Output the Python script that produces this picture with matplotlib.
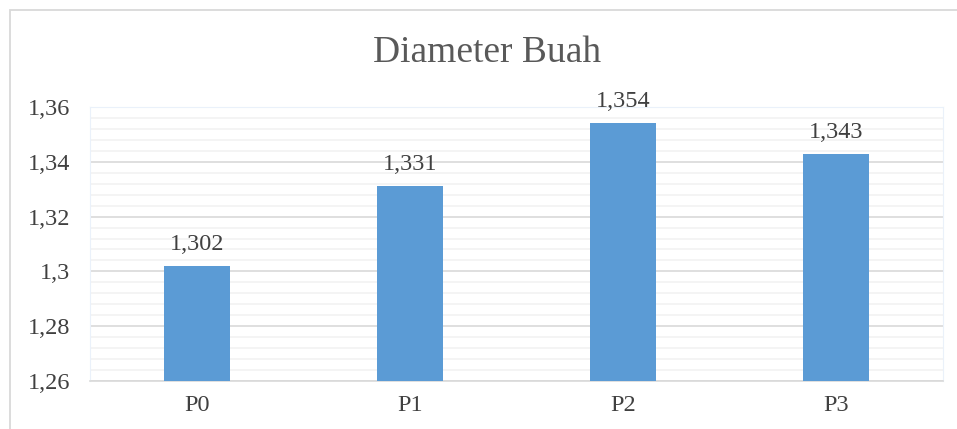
import matplotlib.pyplot as plt
import numpy as np
from matplotlib.patches import Rectangle
from matplotlib.ticker import MultipleLocator

# ── data ───────────────────────────────────────────────────────────────────────
categories = ["P0", "P1", "P2", "P3"]
diameter = [1.302, 1.331, 1.354, 1.343]
labels = ["1,302", "1,331", "1,354", "1,343"]
y_ticks = [1.26, 1.28, 1.30, 1.32, 1.34, 1.36]
y_tick_labels = ["1,26", "1,28", "1,3", "1,32", "1,34", "1,36"]

BAR = "#5B9BD5"
TEXT = "#404040"

plt.rcParams["font.family"] = ["Liberation Serif", "DejaVu Serif"]

W, H = 957, 429
fig = plt.figure(figsize=(W / 100, H / 100), dpi=100)

# outer chart frame (only top and left visible in the crop)
fig.patches.append(Rectangle((10 / W, -0.1), 1.2, (H - 10) / H + 0.1,
                             transform=fig.transFigure, fill=False,
                             edgecolor="#D9D9D9", linewidth=1.3))

ax = fig.add_axes([90 / W, 1 - 381 / H, 853 / W, 274 / H])
x = np.arange(len(categories))
ax.bar(x, diameter, width=0.31, color=BAR, zorder=3)

for xi, v, lab in zip(x, diameter, labels):
    ax.text(xi, v + 0.004, lab, ha="center", va="bottom", fontsize=17.5, color=TEXT)

ax.set_xlim(-0.5, 3.5)
ax.set_ylim(1.26, 1.36)
ax.set_yticks(y_ticks)
ax.set_yticklabels(y_tick_labels)
ax.yaxis.set_minor_locator(MultipleLocator(0.004))
ax.set_xticks(x)
ax.set_xticklabels(categories)

ax.grid(which="major", axis="y", color="#D9D9D9", linewidth=1.2, zorder=0)
ax.grid(which="minor", axis="y", color="#F2F2F2", linewidth=1.2, zorder=0)

for side in ["top", "right", "left"]:
    ax.spines[side].set_color("#EAF1FA")
ax.spines["bottom"].set_color("#D9D9D9")
ax.spines["bottom"].set_linewidth(1.2)

ax.tick_params(which="both", length=0)
ax.tick_params(axis="y", labelsize=17.5, labelcolor=TEXT, pad=14)
ax.tick_params(axis="x", labelsize=17.5, labelcolor=TEXT, pad=10)

fig.text(487 / W, 1 - 53 / H, "Diameter Buah", ha="center", va="center",
         fontsize=27, color="#595959")

fig.savefig("out.png", dpi=100)
